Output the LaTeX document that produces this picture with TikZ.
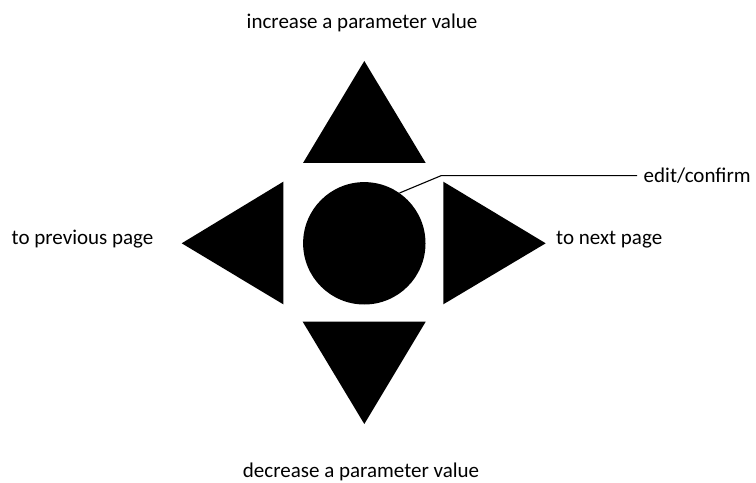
\documentclass[tikz,border=0pt]{standalone}
\usepackage{fontspec}
\setmainfont{Carlito}
\usetikzlibrary{calc,positioning}
\definecolor{Ink}{HTML}{000000}

\begin{document}
\begin{tikzpicture}[x=1bp,y=-1bp,every node/.style={font=\fontsize{21bp}{25bp}\selectfont,text=Ink,inner sep=0pt}]
      \useasboundingbox (0,0) rectangle (756,483);

      \fill[Ink] (303.0,163.0) -- (364.3,61.0) -- (425.7,163.0) -- cycle;
      \fill[Ink] (302.7,321.7) -- (425.7,321.7) -- (364.3,424.0) -- cycle;
      \fill[Ink] (283.3,181.7) -- (181.7,243.3) -- (283.3,304.3) -- cycle;
      \fill[Ink] (443.3,181.7) -- (545.7,243.3) -- (443.3,304.3) -- cycle;
      \node[circle,fill=Ink,minimum size=122.4bp] (okbtn) at (364.3,243.3) {};

      \node[anchor=base] (uplbl) at (362.0,28.5) {increase a parameter value};
      \node[anchor=base] (downlbl) at (361.0,477.0) {decrease a parameter value};
      \node[anchor=base west] (prevlbl) at (11.5,245.0) {to previous page};
      \node[anchor=base west] (nextlbl) at (556.0,245.0) {to next page};
      \node[anchor=west,inner xsep=6.5bp] (editlbl) at (637.0,175.7) {edit/confirm};

      \coordinate (editkink) at (441.0,175.7);
      \draw[Ink,line width=1.1bp] (okbtn.55) -- (editkink) -- (editlbl.west);
    \end{tikzpicture}
\end{document}
